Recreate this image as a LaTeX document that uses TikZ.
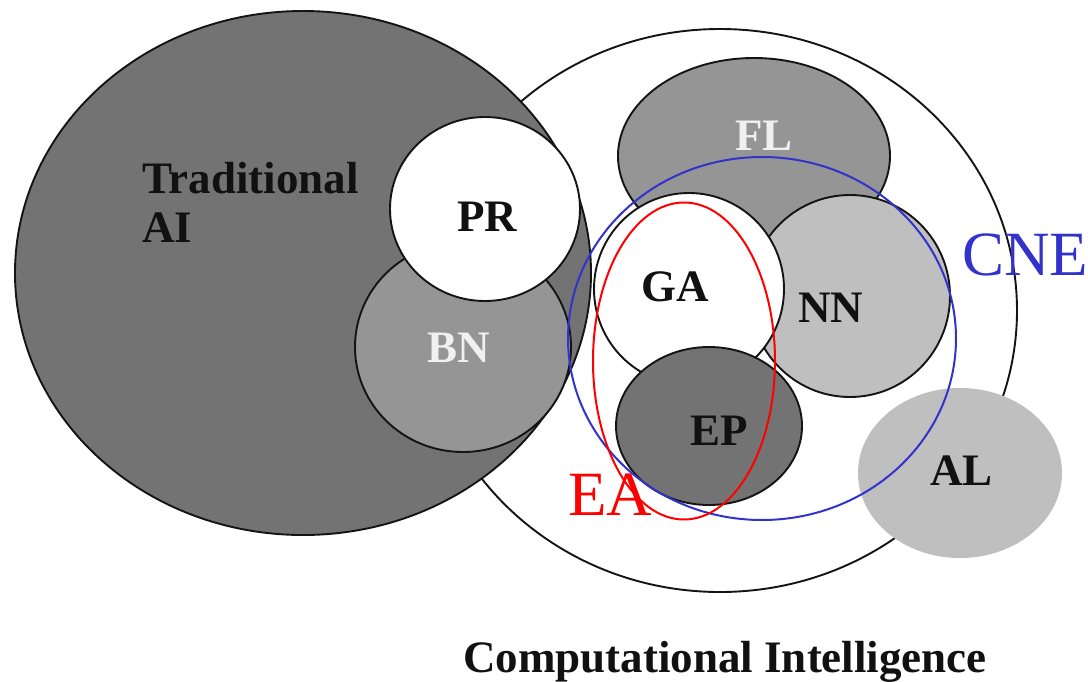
\documentclass[tikz,border=0pt]{standalone}
\usepackage{fontspec}
\setmainfont{Liberation Serif}
\definecolor{darkg}{HTML}{737373}
\definecolor{midg}{HTML}{959595}
\definecolor{lightg}{HTML}{BFBFBF}
\definecolor{edge}{HTML}{141414}
\definecolor{cneblue}{HTML}{3333CC}
\definecolor{labelk}{HTML}{111111}
\begin{document}
\begin{tikzpicture}[x=1pt,y=-1pt,
  region/.style={draw=edge, line width=1.9pt},
  lbl/.style={font=\bfseries\fontsize{45}{48}\selectfont, inner sep=0pt, anchor=base west, text=labelk},
  wlbl/.style={lbl, text=white!94!black},
  biglbl/.style={font=\fontsize{63}{66}\selectfont, inner sep=0pt, anchor=base west}]
\useasboundingbox (0,0) rectangle (1088,681);
% Computational Intelligence
\path[region, fill=white] (720,310.5) ellipse [x radius=297pt, y radius=281.5pt];
% Traditional AI
\path[region, fill=darkg] (303,273) ellipse [x radius=288pt, y radius=262pt];
% BN and PR
\path[region, fill=midg] (463,347) ellipse [x radius=108pt, y radius=105pt];
\path[region, fill=white] (485,209) ellipse [x radius=95pt, y radius=92pt];
% FL, NN, GA, EP
\path[region, fill=midg] (754,156) ellipse [x radius=136pt, y radius=98pt];
\path[region, fill=lightg] (850,296) ellipse [x radius=100pt, y radius=101pt];
\path[region, fill=white] (689,289) ellipse [x radius=95pt, y radius=96pt];
\path[region, fill=darkg] (709,426) ellipse [x radius=93pt, y radius=79pt];
% AL
\path[fill=lightg] (960,473) ellipse [x radius=102pt, y radius=85pt];
% CNE and EA outlines
\draw[cneblue, line width=2pt] (762,338.5) ellipse [x radius=194pt, y radius=181.5pt];
\draw[red, line width=2pt] (684,361) ellipse [x radius=91pt, y radius=158.5pt];
% labels
\node[lbl] (trad) at (142,193) {Traditional};
\node[lbl] (ai) at (142,242) {AI};
\node[lbl] (pr) at (457,231) {PR};
\node[wlbl] (bn) at (427,362) {BN};
\node[wlbl] (fl) at (735,150) {FL};
\node[lbl] (ga) at (641,301) {GA};
\node[lbl] (nn) at (798,322) {NN};
\node[lbl] (ep) at (690,445) {EP};
\node[lbl] (al) at (930,485) {AL};
\node[biglbl, text=cneblue] (cne) at (962,275) {CNE};
\node[biglbl, text=red] (ea) at (568,515) {EA};
\node[lbl] (ci) at (463,672) {Computational Intelligence};
\end{tikzpicture}
\end{document}
